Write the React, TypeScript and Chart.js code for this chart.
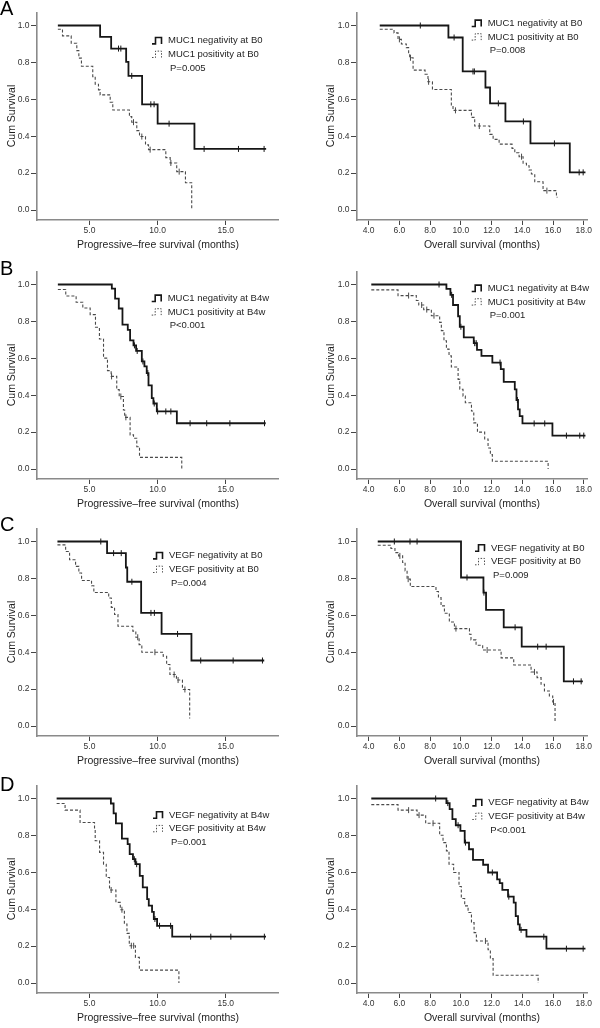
import React, { useEffect, useRef } from 'react';
import { Chart, registerables } from 'chart.js';

Chart.register(...registerables);

const FONT = 'Arial, "Liberation Sans", Helvetica, sans-serif';

// ---------- Panel A (MUC1 at B0) ----------
const a1NegT = [2.68, 5.78, 6.59, 7.69, 7.86, 8.86, 10.0, 12.7, 17.96];
const a1NegS = [1.0, 0.938, 0.875, 0.803, 0.727, 0.573, 0.468, 0.331, 0.331];
const a1NegC = [7.13, 7.3, 8.1, 9.5, 9.74, 10.84, 13.41, 15.93, 17.81];
const a1PosT = [2.68, 3.02, 3.66, 4.07, 4.22, 4.41, 5.24, 5.42, 5.66, 5.78, 6.52, 6.71, 7.93, 8.1, 8.47, 8.67, 9.11, 9.33, 10.6, 10.92, 11.4, 12.04, 12.5];
const a1PosS = [0.98, 0.944, 0.904, 0.864, 0.823, 0.779, 0.723, 0.682, 0.651, 0.624, 0.584, 0.542, 0.506, 0.476, 0.43, 0.398, 0.353, 0.327, 0.284, 0.255, 0.208, 0.148, 0.0];
const a1PosC = [8.23, 8.84, 9.45, 10.97, 11.58];

const a2NegT = [4.72, 9.19, 10.12, 11.6, 11.9, 12.9, 14.53, 17.09, 18.11];
const a2NegS = [1.0, 0.935, 0.751, 0.664, 0.578, 0.48, 0.361, 0.204, 0.204];
const a2NegC = [7.36, 9.56, 10.79, 10.88, 12.44, 14.07, 16.09, 17.7, 17.96];
const a2PosT = [4.72, 5.65, 5.91, 6.13, 6.45, 6.6, 6.67, 6.89, 7.67, 7.86, 8.15, 9.38, 9.49, 10.69, 10.9, 11.88, 12.1, 12.49, 13.33, 13.51, 13.79, 14.05, 14.27, 14.44, 14.59, 14.81, 15.35, 16.22, 16.29];
const a2PosS = [0.98, 0.96, 0.925, 0.9, 0.88, 0.846, 0.825, 0.758, 0.736, 0.695, 0.653, 0.565, 0.54, 0.502, 0.455, 0.41, 0.383, 0.357, 0.334, 0.31, 0.289, 0.253, 0.24, 0.217, 0.195, 0.153, 0.105, 0.069, 0.069];
const a2PosC = [6.0, 6.72, 7.9, 9.65, 11.2, 13.95, 15.6];

// ---------- Panel B (MUC1 at B4w) ----------
const b1NegT = [2.68, 6.64, 6.88, 7.15, 7.42, 7.81, 7.98, 8.23, 8.42, 8.84, 9.03, 9.2, 9.33, 9.57, 9.69, 9.94, 11.41, 17.93];
const b1NegS = [1.0, 0.978, 0.924, 0.87, 0.783, 0.754, 0.697, 0.67, 0.64, 0.583, 0.556, 0.52, 0.453, 0.384, 0.355, 0.312, 0.248, 0.248];
const b1NegC = [8.3, 8.5, 8.92, 9.28, 9.75, 10.0, 10.6, 10.97, 12.38, 13.6, 15.3, 17.84];
const b1PosT = [2.68, 3.26, 4.02, 4.51, 5.05, 5.44, 5.73, 6.03, 6.32, 6.59, 7.0, 7.18, 7.49, 7.58, 7.98, 8.23, 8.47, 8.67, 11.77];
const b1PosS = [0.973, 0.938, 0.904, 0.873, 0.837, 0.768, 0.705, 0.601, 0.533, 0.502, 0.43, 0.393, 0.32, 0.28, 0.185, 0.167, 0.121, 0.063, 0.0];
const b1PosC = [6.62, 7.3, 7.67];

const b2NegT = [4.17, 9.06, 9.32, 9.49, 9.82, 9.93, 10.19, 10.84, 11.05, 11.34, 12.05, 12.6, 12.79, 13.51, 13.62, 13.72, 13.83, 14.01, 15.96, 18.11];
const b2NegS = [1.0, 0.976, 0.944, 0.889, 0.828, 0.771, 0.713, 0.682, 0.646, 0.613, 0.577, 0.541, 0.472, 0.432, 0.374, 0.323, 0.287, 0.247, 0.181, 0.181];
const b2NegC = [8.58, 9.4, 10.0, 10.9, 11.0, 12.55, 13.68, 14.77, 15.46, 16.87, 17.74, 18.0];
const b2PosT = [4.17, 5.91, 7.1, 7.26, 7.58, 8.08, 8.62, 8.73, 8.9, 9.06, 9.23, 9.38, 9.82, 9.93, 10.14, 10.29, 10.69, 10.84, 11.08, 11.55, 11.77, 11.92, 12.05, 15.68];
const b2PosS = [0.971, 0.94, 0.913, 0.889, 0.864, 0.831, 0.795, 0.75, 0.695, 0.65, 0.613, 0.553, 0.486, 0.432, 0.395, 0.359, 0.314, 0.25, 0.2, 0.163, 0.114, 0.078, 0.042, 0.0];
const b2PosC = [6.6, 7.45, 7.78, 8.25];

// ---------- Panel C (VEGF at B0) ----------
const c1NegT = [2.65, 6.29, 7.67, 7.77, 8.79, 10.29, 12.48, 17.82];
const c1NegS = [1.0, 0.937, 0.859, 0.782, 0.613, 0.499, 0.355, 0.355];
const c1NegC = [5.83, 6.77, 7.33, 8.11, 9.51, 9.76, 11.46, 13.16, 15.54, 17.69];
const c1PosT = [2.65, 3.25, 3.54, 3.98, 4.22, 4.42, 5.15, 5.32, 6.41, 6.6, 6.84, 7.09, 8.18, 8.4, 8.64, 8.84, 10.41, 10.66, 10.9, 11.38, 11.82, 12.35];
const c1PosS = [0.982, 0.946, 0.901, 0.865, 0.829, 0.789, 0.76, 0.724, 0.694, 0.643, 0.604, 0.541, 0.514, 0.481, 0.441, 0.4, 0.378, 0.333, 0.279, 0.249, 0.198, 0.04];
const c1PosC = [8.54, 9.8, 11.21, 11.5, 12.0];

const c2NegT = [4.59, 10.01, 11.47, 11.64, 12.79, 13.96, 16.7, 17.94];
const c2NegS = [1.0, 0.805, 0.723, 0.629, 0.535, 0.43, 0.242, 0.242];
const c2NegC = [5.67, 6.69, 7.15, 10.4, 11.5, 13.53, 15.0, 15.55, 17.33, 17.83];
const c2PosT = [4.59, 5.45, 5.71, 5.95, 6.21, 6.37, 6.5, 6.71, 8.38, 8.54, 8.71, 8.93, 9.25, 9.58, 10.56, 10.66, 10.99, 11.42, 12.62, 13.44, 14.57, 14.96, 15.22, 15.44, 15.76, 15.98, 16.13];
const c2PosS = [0.98, 0.962, 0.94, 0.922, 0.886, 0.841, 0.796, 0.756, 0.729, 0.696, 0.651, 0.611, 0.564, 0.528, 0.497, 0.467, 0.438, 0.412, 0.369, 0.331, 0.293, 0.262, 0.226, 0.19, 0.163, 0.13, 0.022];
const c2PosC = [6.03, 6.57, 9.68, 11.71, 14.79, 16.03];

// ---------- Panel D (VEGF at B4w) ----------
const d1NegT = [2.59, 6.57, 6.77, 6.94, 7.38, 7.8, 7.95, 8.19, 8.37, 8.69, 8.91, 9.23, 9.35, 9.59, 9.72, 9.96, 11.07, 17.95];
const d1NegS = [1.0, 0.973, 0.919, 0.865, 0.783, 0.753, 0.699, 0.671, 0.644, 0.581, 0.518, 0.455, 0.419, 0.386, 0.347, 0.31, 0.251, 0.251];
const d1NegC = [8.29, 8.46, 9.8, 10.14, 10.95, 12.42, 13.9, 15.37, 17.83];
const d1PosT = [2.59, 3.21, 4.31, 5.37, 5.42, 5.74, 6.03, 6.23, 6.47, 6.94, 7.26, 7.56, 7.75, 7.92, 8.37, 8.66, 11.56];
const d1PosS = [0.973, 0.937, 0.87, 0.834, 0.771, 0.708, 0.644, 0.572, 0.504, 0.437, 0.397, 0.32, 0.269, 0.202, 0.139, 0.07, 0.0];
const d1PosC = [6.59, 7.38, 8.07, 8.24];

const d2NegT = [4.17, 9.06, 9.27, 9.45, 9.67, 9.97, 10.25, 10.53, 10.79, 11.45, 11.77, 12.36, 12.53, 12.7, 13.07, 13.44, 13.57, 13.72, 13.83, 14.27, 15.57, 18.11];
const d2NegS = [1.0, 0.975, 0.942, 0.888, 0.855, 0.825, 0.761, 0.725, 0.667, 0.641, 0.599, 0.562, 0.541, 0.505, 0.468, 0.436, 0.363, 0.318, 0.288, 0.251, 0.186, 0.186];
const d2NegC = [8.36, 9.15, 9.82, 10.3, 12.05, 13.12, 13.92, 15.4, 16.87, 17.96];
const d2PosT = [4.17, 5.91, 7.15, 7.71, 8.62, 8.84, 9.06, 9.23, 9.53, 9.88, 10.03, 10.25, 10.47, 10.69, 10.86, 11.01, 11.77, 11.92, 12.1, 15.03];
const d2PosS = [0.967, 0.937, 0.91, 0.866, 0.801, 0.761, 0.716, 0.644, 0.599, 0.523, 0.458, 0.418, 0.382, 0.327, 0.273, 0.228, 0.18, 0.132, 0.042, 0.0];
const d2PosC = [6.6, 7.28, 8.19, 11.6];

// ---------- Labels ----------
const panelLetters = ['A', 'B', 'C', 'D'];
const negLabels = ['MUC1 negativity at B0', 'MUC1 negativity at B4w', 'VEGF negativity at B0', 'VEGF negativity at B4w'];
const posLabels = ['MUC1 positivity at B0', 'MUC1 positivity at B4w', 'VEGF positivity at B0', 'VEGF positivity at B4w'];
const pLeft = ['P=0.005', 'P<0.001', 'P=0.004', 'P=0.001'];
const pRight = ['P=0.008', 'P=0.001', 'P=0.009', 'P<0.001'];
const yTicks = [0, 0.2, 0.4, 0.6, 0.8, 1.0];
const pfsTicks = [5, 10, 15];
const osTicks = [4, 6, 8, 10, 12, 14, 16, 18];
const yTitle = 'Cum Survival';
const pfsTitle = 'Progressive–free survival (months)';
const osTitle = 'Overall survival (months)';

// ---------- Layout ----------
const ROW_TOP = [0, 259, 516, 773];
const LETTER_Y = [15.3, 16, 15, 18];
const LEG_Y_L = [40.7, 39.3, 39.7, 42];
const LEG_Y_R = [23.3, 29.3, 32, 29.7];
const LEG_X_L = [168, 167.7, 169, 169];
const LEG_X_R = [187.7, 187.7, 191, 188.3];
const CW = 300;
const CH = 255;

const SIDE = {
  L: { left: 37, right: 278, xMin: 1.15, xMax: 18.83, ticks: pfsTicks, title: pfsTitle, titleX: 158, yTitleX: 12 },
  R: { left: 57, right: 287, xMin: 3.24, xMax: 18.21, ticks: osTicks, title: osTitle, titleX: 182, yTitleX: 31.5 },
};

const curves = [
  [[a1NegT, a1NegS, a1NegC, a1PosT, a1PosS, a1PosC], [a2NegT, a2NegS, a2NegC, a2PosT, a2PosS, a2PosC]],
  [[b1NegT, b1NegS, b1NegC, b1PosT, b1PosS, b1PosC], [b2NegT, b2NegS, b2NegC, b2PosT, b2PosS, b2PosC]],
  [[c1NegT, c1NegS, c1NegC, c1PosT, c1PosS, c1PosC], [c2NegT, c2NegS, c2NegC, c2PosT, c2PosS, c2PosC]],
  [[d1NegT, d1NegS, d1NegC, d1PosT, d1PosS, d1PosC], [d2NegT, d2NegS, d2NegC, d2PosT, d2PosS, d2PosC]],
];

const pts = (t: number[], s: number[]) => t.map((x, i) => ({ x, y: s[i] }));
const survAt = (t: number[], s: number[], c: number) => {
  let v = s[0];
  for (let i = 0; i < t.length; i++) if (t[i] <= c) v = s[i];
  return v;
};
const cens = (t: number[], s: number[], c: number[]) => c.map((x) => ({ x, y: survAt(t, s, x) }));

const SOLID = '#161616';
const DASH = '#4a4a4a';

function KMPanel({ row, side }: { row: number; side: 'L' | 'R' }) {
  const ref = useRef<HTMLCanvasElement | null>(null);
  useEffect(() => {
    const canvas = ref.current;
    if (!canvas) return;
    const cfg = SIDE[side];
    const [negT, negS, negC, posT, posS, posC] = curves[row][side === 'L' ? 0 : 1];
    const legX = side === 'L' ? LEG_X_L[row] : LEG_X_R[row];
    const legY = side === 'L' ? LEG_Y_L[row] : LEG_Y_R[row];
    const pText = side === 'L' ? pLeft[row] : pRight[row];

    const textPlugin = {
      id: 'kmText',
      afterDraw(chart: any) {
        const ctx = chart.ctx as CanvasRenderingContext2D;
        ctx.save();
        ctx.fillStyle = '#1e1e1e';
        if (side === 'L') {
          ctx.font = `20px ${FONT}`;
          ctx.textAlign = 'left';
          ctx.textBaseline = 'alphabetic';
          ctx.fillStyle = '#000';
          ctx.fillText(panelLetters[row], 0, LETTER_Y[row]);
          ctx.fillStyle = '#1e1e1e';
        }
        // axis titles
        ctx.font = `10.5px ${FONT}`;
        ctx.textAlign = 'center';
        ctx.textBaseline = 'middle';
        ctx.fillText(cfg.title, cfg.titleX, 245.5);
        ctx.save();
        ctx.translate(cfg.yTitleX, 116);
        ctx.rotate(-Math.PI / 2);
        ctx.fillText(yTitle, 0, 0);
        ctx.restore();
        // legend
        const sp = 13.6;
        ctx.font = `9.5px ${FONT}`;
        ctx.textAlign = 'left';
        ctx.fillText(negLabels[row], legX, legY);
        ctx.fillText(posLabels[row], legX, legY + sp);
        ctx.fillText(pText, legX + 2, legY + 2 * sp);
        const icon = (cy: number) => {
          ctx.beginPath();
          ctx.moveTo(legX - 16, cy + 3.2);
          ctx.lineTo(legX - 12.5, cy + 3.2);
          ctx.lineTo(legX - 12.5, cy - 3.2);
          ctx.lineTo(legX - 6.5, cy - 3.2);
          ctx.lineTo(legX - 6.5, cy + 3.2);
          ctx.stroke();
        };
        ctx.strokeStyle = SOLID;
        ctx.lineWidth = 1.6;
        ctx.setLineDash([]);
        icon(legY);
        ctx.strokeStyle = DASH;
        ctx.lineWidth = 1;
        ctx.setLineDash([1.5, 1.5]);
        icon(legY + sp);
        ctx.restore();
      },
    };

    const chart = new Chart(canvas, {
      type: 'line',
      data: {
        datasets: [
          {
            label: negLabels[row],
            data: pts(negT, negS),
            stepped: true,
            borderColor: SOLID,
            borderWidth: 1.8,
            pointRadius: 0,
            fill: false,
          },
          {
            label: posLabels[row],
            data: pts(posT, posS),
            stepped: true,
            borderColor: DASH,
            borderWidth: 1.1,
            borderDash: [3, 2],
            pointRadius: 0,
            fill: false,
          },
          {
            label: 'neg censored',
            data: cens(negT, negS, negC),
            showLine: false,
            pointStyle: 'line',
            pointRotation: 90,
            pointRadius: 3,
            pointBorderColor: SOLID,
            pointBorderWidth: 1,
            pointBackgroundColor: SOLID,
          },
          {
            label: 'pos censored',
            data: cens(posT, posS, posC),
            showLine: false,
            pointStyle: 'line',
            pointRotation: 90,
            pointRadius: 3,
            pointBorderColor: DASH,
            pointBorderWidth: 1,
            pointBackgroundColor: DASH,
          },
        ] as any,
      },
      options: {
        responsive: false,
        animation: false,
        events: [],
        layout: { padding: { left: 0, top: 13, right: CW - cfg.right, bottom: 0 } },
        plugins: { legend: { display: false }, tooltip: { enabled: false }, title: { display: false } },
        scales: {
          x: {
            type: 'linear',
            min: cfg.xMin,
            max: cfg.xMax,
            afterBuildTicks: (s: any) => {
              s.ticks = cfg.ticks.map((v) => ({ value: v }));
            },
            afterFit: (s: any) => {
              s.height = CH - 220;
            },
            ticks: {
              font: { size: 8.5, family: FONT },
              color: '#333',
              padding: 1,
              maxRotation: 0,
              autoSkip: false,
              callback: (v: any) => Number(v).toFixed(1),
            },
            grid: { display: true, drawOnChartArea: false, drawTicks: true, tickLength: 5, tickColor: '#444', tickWidth: 1 },
            border: { display: true, color: '#8a8a8a', width: 1.6 },
          },
          y: {
            type: 'linear',
            min: -0.0542,
            max: 1.0678,
            afterBuildTicks: (s: any) => {
              s.ticks = yTicks.map((v) => ({ value: v }));
            },
            afterFit: (s: any) => {
              s.width = cfg.left;
            },
            ticks: {
              font: { size: 8.5, family: FONT },
              color: '#333',
              padding: 1.5,
              autoSkip: false,
              callback: (v: any) => Number(v).toFixed(1),
            },
            grid: { display: true, drawOnChartArea: false, drawTicks: true, tickLength: 6, tickColor: '#444', tickWidth: 1 },
            border: { display: true, color: '#8a8a8a', width: 1.6 },
          },
        },
      } as any,
      plugins: [textPlugin],
    });
    return () => chart.destroy();
  }, [row, side]);

  return (
    <canvas
      ref={ref}
      width={CW}
      height={CH}
      style={{
        position: 'absolute',
        left: side === 'L' ? 0 : CW,
        top: ROW_TOP[row],
        width: CW,
        height: CH,
        display: 'block',
      }}
    />
  );
}

export default function App() {
  return (
    <div style={{ position: 'absolute', left: 0, top: 0, width: 600, height: 1028, background: '#fff', overflow: 'hidden' }}>
      {[0, 1, 2, 3].map((r) => (
        <React.Fragment key={r}>
          <KMPanel row={r} side="L" />
          <KMPanel row={r} side="R" />
        </React.Fragment>
      ))}
    </div>
  );
}
